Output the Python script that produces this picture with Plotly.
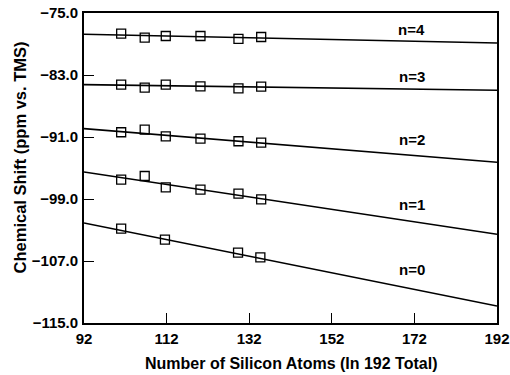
import plotly.graph_objects as go

# ---- data ----
x_vals = [101.0, 106.7, 111.8, 120.2, 129.4, 134.9]
x_vals_n0 = [101.0, 111.6, 129.3, 134.7]

shift_n4 = [-77.66, -78.17, -77.97, -77.97, -78.35, -78.10]
shift_n3 = [-84.24, -84.63, -84.24, -84.46, -84.72, -84.50]
shift_n2 = [-90.39, -90.05, -90.91, -91.21, -91.55, -91.72]
shift_n1 = [-96.50, -96.03, -97.49, -97.79, -98.31, -99.04]
shift_n0 = [-102.82, -104.24, -105.92, -106.52]

fit_x = [92, 192]
fit_n4 = [-77.75, -78.87]
fit_n3 = [-84.24, -84.97]
fit_n2 = [-89.92, -94.26]
fit_n1 = [-95.52, -103.55]
fit_n0 = [-102.10, -112.80]

series_labels = ["n=4", "n=3", "n=2", "n=1", "n=0"]
label_x = 171.4
label_y = [-77.17, -83.17, -91.34, -99.68, -108.10]

x_tickvals = [92, 112, 132, 152, 172, 192]
x_ticktext = ["92", "112", "132", "152", "172", "192"]
y_tickvals = [-75, -83, -91, -99, -107, -115]
y_ticktext = ["\u221275.0", "\u221283.0", "\u221291.0", "\u221299.0", "\u2212107.0", "\u2212115.0"]

x_title = "Number of Silicon Atoms (In 192 Total)"
y_title = "Chemical Shift (ppm vs. TMS)"

FONT = "Liberation Sans"

fig = go.Figure()

for fy in [fit_n4, fit_n3, fit_n2, fit_n1, fit_n0]:
    fig.add_trace(go.Scatter(x=fit_x, y=fy, mode="lines",
                             line=dict(color="black", width=1.6),
                             showlegend=False, hoverinfo="skip"))

for xs, ys in [(x_vals, shift_n4), (x_vals, shift_n3), (x_vals, shift_n2),
               (x_vals, shift_n1), (x_vals_n0, shift_n0)]:
    fig.add_trace(go.Scatter(x=xs, y=ys, mode="markers",
                             marker=dict(symbol="square-open", size=9, color="black",
                                         line=dict(width=1.3, color="black")),
                             showlegend=False))

for lab, ly in zip(series_labels, label_y):
    fig.add_annotation(x=label_x, y=ly, text=lab, showarrow=False,
                       font=dict(family=FONT, size=15, color="black", weight="bold"))

fig.add_annotation(x=0.501, xref="paper", xanchor="center",
                   y=-0.13, yref="paper", yanchor="middle",
                   text=x_title, showarrow=False,
                   font=dict(family=FONT, size=16, color="black", weight="bold"))
fig.add_annotation(x=-0.155, xref="paper", xanchor="center",
                   y=0.534, yref="paper", yanchor="middle",
                   text=y_title, showarrow=False, textangle=-90,
                   font=dict(family=FONT, size=16.5, color="black", weight="bold"))

fig.update_xaxes(range=[92, 192], tickvals=x_tickvals, ticktext=x_ticktext,
                 ticks="inside", ticklen=10, tickwidth=1.3, tickcolor="black",
                 showline=True, linecolor="black", linewidth=1.8, mirror=True,
                 showgrid=False, zeroline=False, ticklabelstandoff=1,
                 automargin=False,
                 tickfont=dict(family=FONT, size=15, color="black", weight="bold"))
fig.update_yaxes(range=[-115, -75], tickvals=y_tickvals, ticktext=y_ticktext,
                 ticks="inside", ticklen=10, tickwidth=1.3, tickcolor="black",
                 showline=True, linecolor="black", linewidth=1.8, mirror=True,
                 showgrid=False, zeroline=False, ticklabelstandoff=1,
                 automargin=False,
                 tickfont=dict(family=FONT, size=15, color="black", weight="bold"))

fig.update_layout(width=510, height=375,
                  margin=dict(l=84, r=13, t=13, b=52),
                  paper_bgcolor="white", plot_bgcolor="white",
                  showlegend=False)

fig.write_html("out.html", config={"displayModeBar": False},
               post_script="document.body.style.margin='0';"
                           "document.body.style.overflow='hidden';")
